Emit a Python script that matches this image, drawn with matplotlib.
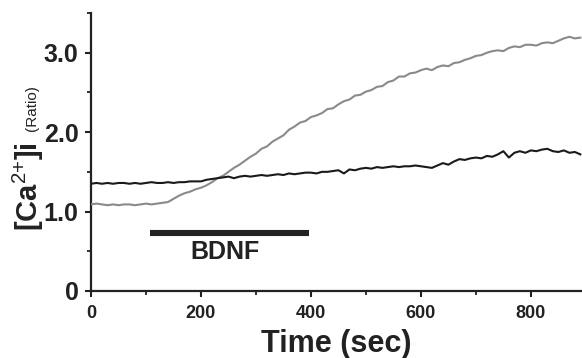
import matplotlib
matplotlib.use("Agg")
import matplotlib.pyplot as plt
import numpy as np

plt.rcParams['font.family'] = ['Liberation Sans', 'DejaVu Sans']
plt.rcParams['mathtext.fontset'] = 'custom'
plt.rcParams['mathtext.rm'] = 'Liberation Sans'
plt.rcParams['mathtext.bf'] = 'Liberation Sans:bold'

# sampling times (sec)
time_sec = list(range(0, 900, 10))

# gray trace: BDNF-responsive cell
gray_trace = [
    1.09, 1.10, 1.09, 1.08, 1.09, 1.08, 1.09, 1.09, 1.08, 1.09,
    1.10, 1.09, 1.10, 1.11, 1.12, 1.16, 1.20, 1.23, 1.25, 1.28,
    1.30, 1.33, 1.37, 1.42, 1.45, 1.50, 1.55, 1.59, 1.64, 1.69,
    1.73, 1.79, 1.82, 1.88, 1.92, 1.96, 2.03, 2.07, 2.12, 2.14,
    2.19, 2.21, 2.24, 2.29, 2.30, 2.35, 2.39, 2.41, 2.46, 2.47,
    2.51, 2.53, 2.57, 2.58, 2.63, 2.65, 2.70, 2.70, 2.74, 2.75,
    2.78, 2.80, 2.78, 2.82, 2.84, 2.83, 2.87, 2.88, 2.91, 2.93,
    2.96, 2.97, 3.00, 3.02, 3.03, 3.02, 3.06, 3.08, 3.07, 3.10,
    3.10, 3.09, 3.12, 3.13, 3.12, 3.15, 3.18, 3.20, 3.18, 3.19,
]

# black trace
black_trace = [
    1.35, 1.36, 1.35, 1.36, 1.35, 1.36, 1.36, 1.35, 1.36, 1.35,
    1.36, 1.37, 1.36, 1.36, 1.37, 1.36, 1.37, 1.37, 1.38, 1.38,
    1.38, 1.40, 1.41, 1.42, 1.43, 1.44, 1.42, 1.44, 1.45, 1.44,
    1.45, 1.46, 1.45, 1.46, 1.47, 1.46, 1.48, 1.47, 1.48, 1.49,
    1.49, 1.48, 1.50, 1.50, 1.51, 1.52, 1.48, 1.53, 1.52, 1.54,
    1.55, 1.54, 1.56, 1.55, 1.56, 1.57, 1.56, 1.57, 1.57, 1.58,
    1.57, 1.56, 1.55, 1.58, 1.61, 1.59, 1.63, 1.66, 1.65, 1.67,
    1.68, 1.67, 1.70, 1.69, 1.72, 1.76, 1.68, 1.74, 1.76, 1.74,
    1.77, 1.76, 1.78, 1.79, 1.76, 1.75, 1.77, 1.74, 1.75, 1.72,
]

bdnf_start, bdnf_end, bdnf_level = 107, 397, 0.735
bdnf_label = "BDNF"
xticks = [0, 200, 400, 600, 800]
yticks = [0, 1.0, 2.0, 3.0]
ytick_labels = ["0", "1.0", "2.0", "3.0"]

fig = plt.figure(figsize=(5.82, 3.58), dpi=100)
ax = fig.add_axes([0.1564, 0.1872, 1.0 - 0.1564, 0.9637 - 0.1872])

ax.plot(time_sec, gray_trace, color='#8a8a8a', lw=1.5, zorder=3)
ax.plot(time_sec, black_trace, color='#1a1a1a', lw=1.5, zorder=4)
ax.plot([bdnf_start, bdnf_end], [bdnf_level, bdnf_level], color='#222222',
        lw=4.4, solid_capstyle='butt', zorder=5)
ax.text((bdnf_start + bdnf_end) / 2 - 8, 0.49, bdnf_label, ha='center', va='center',
        fontsize=18, fontweight='bold', color='#222222')

ax.set_xlim(0, 893)
ax.set_ylim(0, 3.5)
for s in ['top', 'right']:
    ax.spines[s].set_visible(False)
for s in ['left', 'bottom']:
    ax.spines[s].set_linewidth(1.6)
    ax.spines[s].set_color('#222222')

ax.set_xticks(xticks)
ax.set_xticklabels([str(v) for v in xticks], fontsize=13, fontweight='bold', color='#222222')
ax.set_xticks([100, 300, 500, 700], minor=True)
ax.set_yticks(yticks)
ax.set_yticklabels(ytick_labels, fontsize=18, fontweight='bold', color='#222222')
ax.set_yticks([0.5, 1.5, 2.5, 3.5], minor=True)
ax.tick_params(axis='both', which='major', direction='out', length=4, width=1.5, color='#222222')
ax.tick_params(axis='both', which='minor', direction='out', length=3, width=1.3, color='#222222')
ax.tick_params(axis='y', which='major', pad=5)
ax.tick_params(axis='x', which='major', pad=6)

fig.text(0.578, 0.017, "Time (sec)", ha='center', va='baseline', fontsize=22,
         fontweight='bold', color='#222222')
fig.text(0.066, 0.48, r"[Ca$^{2{+}}$]i", rotation=90, rotation_mode='anchor',
         ha='center', va='baseline', fontsize=21, fontweight='bold', color='#222222')
fig.text(0.062, 0.698, "(Ratio)", rotation=90, rotation_mode='anchor',
         ha='center', va='baseline', fontsize=11, color='#222222')

fig.savefig("out.png", dpi=100)
